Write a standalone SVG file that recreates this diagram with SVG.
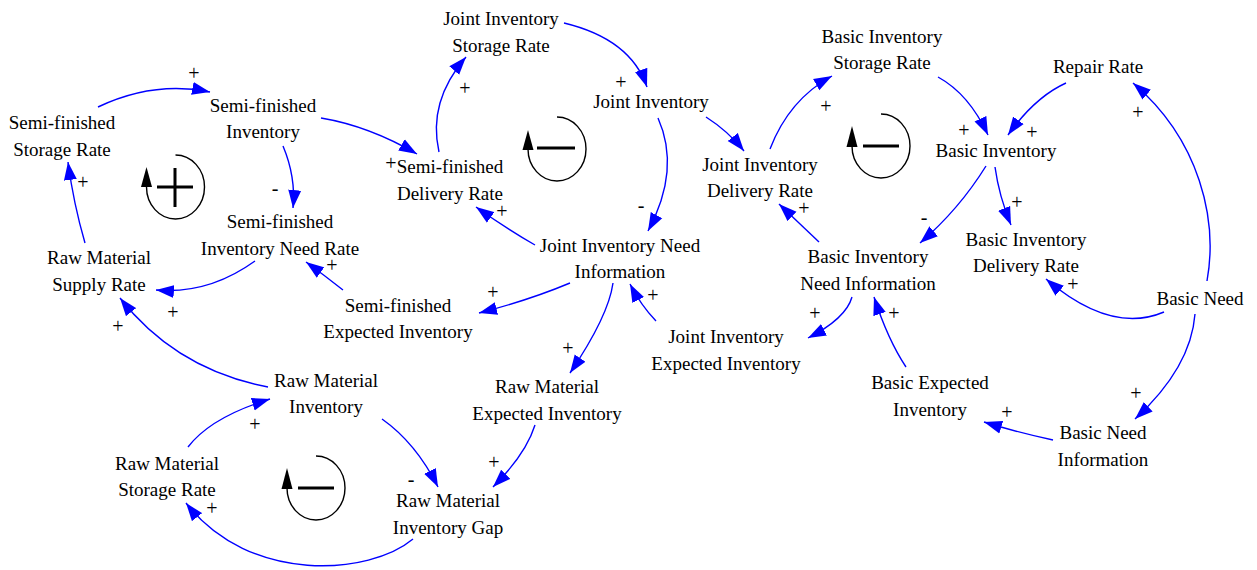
<svg xmlns="http://www.w3.org/2000/svg" width="1257" height="570" viewBox="0 0 1257 570">
<defs>
<style>
.lbl{font-family:"Liberation Serif","Times New Roman",serif;font-size:19px;fill:#000;text-anchor:middle}
.pol{font-family:"Liberation Serif","Times New Roman",serif;font-size:20px;fill:#000;text-anchor:middle}
.cn{fill:none;stroke:#0000FF;stroke-width:1.4;marker-end:url(#ah)}
.loop{fill:none;stroke:#000;stroke-width:1.4}
.sign{stroke:#000;stroke-width:3;fill:none}
</style>
<marker id="ah" markerUnits="userSpaceOnUse" markerWidth="20" markerHeight="14" refX="18" refY="7" orient="auto">
<path d="M0,0.5 L18,7 L0,13.5 z" fill="#0000FF"/>
</marker>
</defs>
<rect width="1257" height="570" fill="#fff"/>

<g id="connectors">
<path class="cn" d="M98,107 Q154,80.5 210,92"/>
<path class="cn" d="M321,118 Q369,126 417,154"/>
<path class="cn" d="M283,146 Q296,177 293,208"/>
<path class="cn" d="M255,261 Q208.5,294.5 156,290"/>
<path class="cn" d="M85,243 Q73.5,203.5 68,162"/>
<path class="cn" d="M268,387 Q176,369.5 120,298"/>
<path class="cn" d="M188,447 Q211,417 270,399"/>
<path class="cn" d="M382,419 Q416,443 438,487"/>
<path class="cn" d="M535,425 Q526,454 493,487"/>
<path class="cn" d="M413,539 C370,575 250,585 186,503"/>
<path class="cn" d="M439,152 Q427.5,101.5 466,57"/>
<path class="cn" d="M564,23 Q630.5,39 647,87"/>
<path class="cn" d="M658,118 Q681,169.5 648,231"/>
<path class="cn" d="M535,245 Q508.5,230 476,207"/>
<path class="cn" d="M706,117 Q728,131 744,151"/>
<path class="cn" d="M770,149 Q789,99.5 832,76"/>
<path class="cn" d="M819,242 Q801,225 779,204"/>
<path class="cn" d="M938,77 Q969,94 988,135"/>
<path class="cn" d="M1066,83 Q1035,97 1008,135"/>
<path class="cn" d="M1207,281 C1218,220 1200,140 1133,83"/>
<path class="cn" d="M986,166 Q959,209.5 920,243"/>
<path class="cn" d="M995,167 Q999,196 1011,225"/>
<path class="cn" d="M1164,312 Q1111,334.5 1046,279"/>
<path class="cn" d="M1195,314 Q1191,367.5 1135,419"/>
<path class="cn" d="M1053,440 Q1020,433 984,422"/>
<path class="cn" d="M906,367 Q888,340 874,297"/>
<path class="cn" d="M852,297 Q846,318.5 808,338"/>
<path class="cn" d="M656,321 Q641,305.5 630,284"/>
<path class="cn" d="M570,283 Q529.5,300 479,313"/>
<path class="cn" d="M613,283 Q608.5,316 570,373"/>
<path class="cn" d="M343,290 Q324,275 306,262"/>
</g>

<g id="polarities">
<text class="pol" x="194" y="80">+</text>
<text class="pol" x="391" y="170">+</text>
<text class="pol" x="275" y="195">-</text>
<text class="pol" x="173" y="319">+</text>
<text class="pol" x="83" y="189">+</text>
<text class="pol" x="118" y="333">+</text>
<text class="pol" x="255" y="431">+</text>
<text class="pol" x="411" y="486">-</text>
<text class="pol" x="494" y="469">+</text>
<text class="pol" x="212" y="515">+</text>
<text class="pol" x="465" y="95">+</text>
<text class="pol" x="621" y="89">+</text>
<text class="pol" x="641" y="212">-</text>
<text class="pol" x="502" y="218">+</text>
<text class="pol" x="826" y="113">+</text>
<text class="pol" x="804" y="215">+</text>
<text class="pol" x="964" y="137">+</text>
<text class="pol" x="1032" y="139">+</text>
<text class="pol" x="1138" y="119">+</text>
<text class="pol" x="924" y="224">-</text>
<text class="pol" x="1017" y="209">+</text>
<text class="pol" x="1073" y="291">+</text>
<text class="pol" x="1136" y="400">+</text>
<text class="pol" x="1007" y="419">+</text>
<text class="pol" x="894" y="320">+</text>
<text class="pol" x="815" y="320">+</text>
<text class="pol" x="653" y="302">+</text>
<text class="pol" x="493" y="299">+</text>
<text class="pol" x="568" y="355">+</text>
<text class="pol" x="332" y="272">+</text>
</g>

<g id="loop1">
<path class="loop" d="M175.5,155 A29,32 0 1,1 146.5,187"/>
<polygon points="141,187 152,187 146.5,167" fill="#000"/>
<path class="sign" d="M157,187 H193 M175,168 V207"/>
</g>
<g id="loop2">
<path class="loop" d="M557,117 A29,32 0 1,1 528,149"/>
<polygon points="522.5,150 533.5,150 528,130" fill="#000"/>
<path class="sign" d="M537,148 H575"/>
</g>
<g id="loop3">
<path class="loop" d="M881,114 A29,32 0 1,1 852,146"/>
<polygon points="846.5,147 857.5,147 852,126" fill="#000"/>
<path class="sign" d="M863,146 H899"/>
</g>
<g id="loop4">
<path class="loop" d="M316,456 A29,32 0 1,1 287,488"/>
<polygon points="281.5,489 292.5,489 287,468" fill="#000"/>
<path class="sign" d="M298,488 H334"/>
</g>

<g id="n1"><text class="lbl"><tspan x="62" y="129">Semi-finished</tspan><tspan x="62" y="156">Storage Rate</tspan></text></g>
<g id="n2"><text class="lbl"><tspan x="263" y="112">Semi-finished</tspan><tspan x="263" y="138">Inventory</tspan></text></g>
<g id="n3"><text class="lbl"><tspan x="280" y="228">Semi-finished</tspan><tspan x="280" y="255">Inventory Need Rate</tspan></text></g>
<g id="n4"><text class="lbl"><tspan x="99" y="264">Raw Material</tspan><tspan x="99" y="291">Supply Rate</tspan></text></g>
<g id="n5"><text class="lbl"><tspan x="450" y="173">Semi-finished</tspan><tspan x="450" y="200">Delivery Rate</tspan></text></g>
<g id="n6"><text class="lbl"><tspan x="501" y="25">Joint Inventory</tspan><tspan x="501" y="52">Storage Rate</tspan></text></g>
<g id="n7"><text class="lbl" x="651" y="108">Joint Inventory</text></g>
<g id="n8"><text class="lbl"><tspan x="760" y="171">Joint Inventory</tspan><tspan x="760" y="197">Delivery Rate</tspan></text></g>
<g id="n9"><text class="lbl"><tspan x="620" y="252">Joint Inventory Need</tspan><tspan x="620" y="278">Information</tspan></text></g>
<g id="n10"><text class="lbl"><tspan x="398" y="312">Semi-finished</tspan><tspan x="398" y="338">Expected Inventory</tspan></text></g>
<g id="n11"><text class="lbl"><tspan x="547" y="393">Raw Material</tspan><tspan x="547" y="420">Expected Inventory</tspan></text></g>
<g id="n12"><text class="lbl"><tspan x="726" y="343">Joint Inventory</tspan><tspan x="726" y="370">Expected Inventory</tspan></text></g>
<g id="n13"><text class="lbl"><tspan x="326" y="387">Raw Material</tspan><tspan x="326" y="413">Inventory</tspan></text></g>
<g id="n14"><text class="lbl"><tspan x="167" y="470">Raw Material</tspan><tspan x="167" y="496">Storage Rate</tspan></text></g>
<g id="n15"><text class="lbl"><tspan x="448" y="507">Raw Material</tspan><tspan x="448" y="534">Inventory Gap</tspan></text></g>
<g id="n16"><text class="lbl"><tspan x="882" y="43">Basic Inventory</tspan><tspan x="882" y="69">Storage Rate</tspan></text></g>
<g id="n17"><text class="lbl" x="1098" y="73">Repair Rate</text></g>
<g id="n18"><text class="lbl" x="996" y="157">Basic Inventory</text></g>
<g id="n19"><text class="lbl"><tspan x="1026" y="246">Basic Inventory</tspan><tspan x="1026" y="272">Delivery Rate</tspan></text></g>
<g id="n20"><text class="lbl"><tspan x="868" y="263">Basic Inventory</tspan><tspan x="868" y="290">Need Information</tspan></text></g>
<g id="n21"><text class="lbl" x="1200" y="305">Basic Need</text></g>
<g id="n22"><text class="lbl"><tspan x="930" y="389">Basic Expected</tspan><tspan x="930" y="416">Inventory</tspan></text></g>
<g id="n23"><text class="lbl"><tspan x="1103" y="439">Basic Need</tspan><tspan x="1103" y="466">Information</tspan></text></g>
</svg>
